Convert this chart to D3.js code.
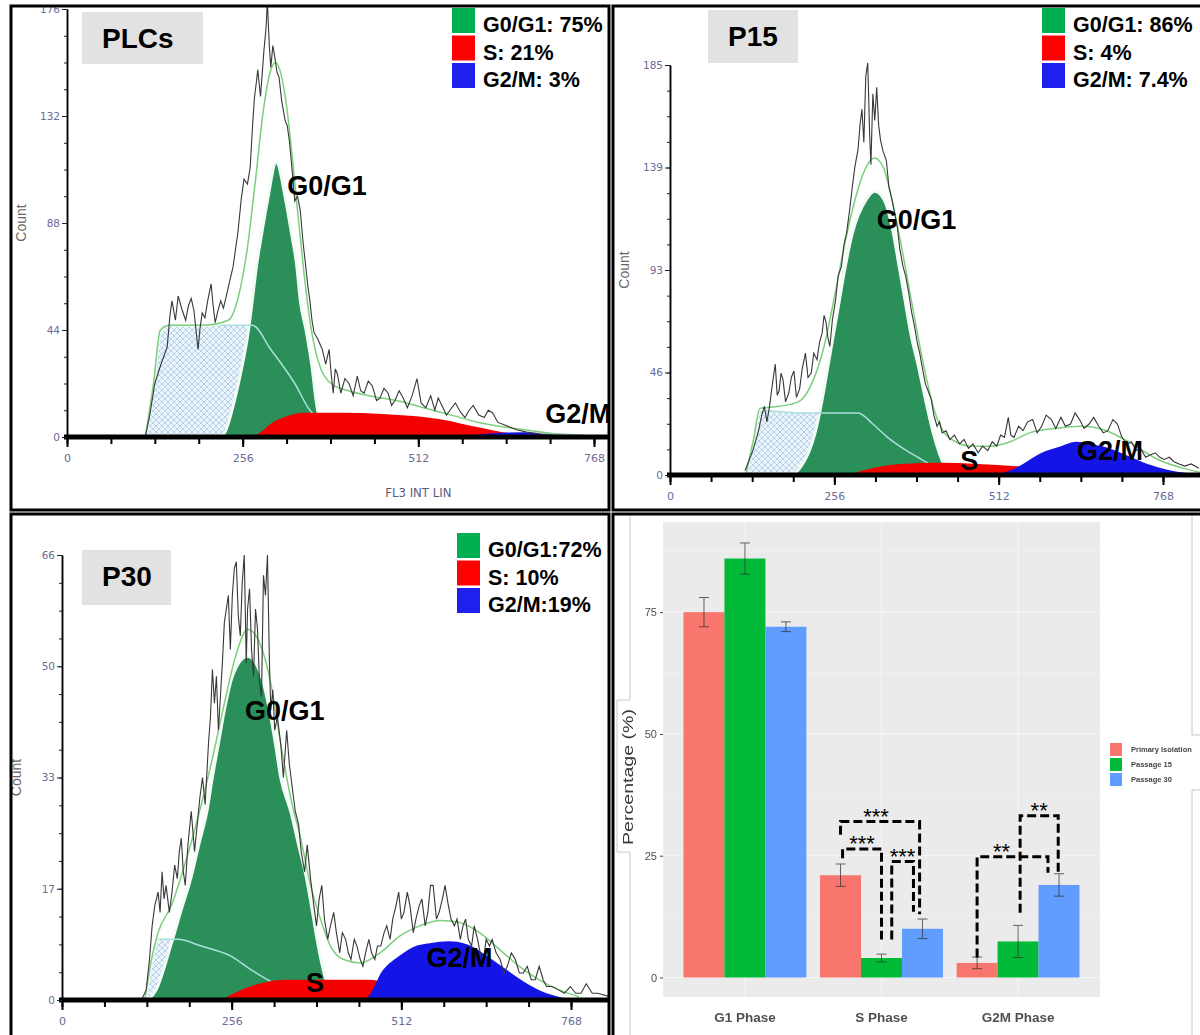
<!DOCTYPE html>
<html>
<head>
<meta charset="utf-8">
<script src="https://cdnjs.cloudflare.com/ajax/libs/d3/7.8.5/d3.min.js"></script>
<style>
  body { margin: 0; background: #fff; }
  svg { display: block; font-family: "Liberation Sans", Arial, sans-serif; }
</style>
</head>
<body>
<svg id="figure" width="1200" height="1035"></svg>
<script>
  // ---- flow cytometry histograms, [channel, count] ----
  var plcRaw = [[114,0],[120,8],[128,22],[137,30],[146,37],[150,50],[153,56],[158,48],[162,58],[165,55],[168,52],[173,48],[177,54],[181,57],[185,52],[188,44],[191,36],[194,45],[197,51],[201,49],[205,56],[210,63],[213,54],[216,47],[220,52],[224,56],[228,53],[233,59],[237,64],[242,70],[246,78],[249,84],[254,98],[258,106],[263,104],[267,111],[270,126],[273,139],[276,146],[278,151],[282,140],[287,159],[290,168],[292,179],[295,160],[297,152],[300,161],[303,156],[306,150],[309,148],[313,138],[318,130],[321,128],[324,122],[328,110],[332,97],[336,99],[340,93],[344,80],[348,70],[351,62],[354,56],[357,48],[360,43],[366,40],[372,36],[377,30],[382,36],[385,26],[388,18],[391,28],[394,26],[399,18],[405,24],[411,22],[417,17],[423,25],[428,19],[433,18],[439,23],[445,21],[451,15],[456,16],[462,20],[468,18],[473,13],[478,15],[484,19],[490,16],[496,12],[503,17],[510,24],[516,14],[523,12],[530,17],[536,11],[541,16],[548,12],[553,9],[558,11],[566,14],[574,10],[580,8],[586,11],[592,13],[600,9],[608,8],[614,11],[620,10],[628,6],[637,5],[646,4],[655,3],[670,2],[694,1],[720,0.5],[749,0],[768,0]];
  var plcModel = [[114,0],[126,22],[136,44],[150,46],[200,46],[235,48],[250,58],[262,76],[274,104],[286,134],[296,150],[304,154],[312,149],[320,136],[328,116],[336,93],[344,71],[352,52],[360,38],[370,28],[385,22],[410,19],[440,17],[480,15],[520,12],[560,9],[600,6],[640,4],[680,2.5],[720,1],[768,0.3]];
  var plcDebris = [[114,0],[126,20],[134,40],[142,46],[200,46],[240,46],[270,46],[297,36],[332,22],[354,11],[382,6],[420,2],[450,0]];
  var plcG1 = [[220,0],[229,1.5],[244,15],[255,29],[264,43],[270,56],[276,70],[284,84],[292,97],[305,113],[319,97],[327,84],[335,70],[340,56],[349,43],[357,29],[363,15],[374,1.5],[382,0]];
  var plcS = [[270,0],[280,1.5],[297,5.5],[320,8.5],[345,10],[400,10],[460,9.5],[505,8.6],[550,7],[590,4.5],[620,2.8],[645,1.5],[680,0.7],[710,0.3],[730,0]];
  var plcG2M = [[560,0],[600,1],[640,1.8],[680,2],[720,1.5],[760,0.8],[800,0]];
  var plcLegend = ["G0/G1: 75%", "S: 21%", "G2/M: 3%"];

  var p15Raw = [[117,2],[129,11],[138,20],[143,27],[147,31],[151,24],[155,31],[160,42],[164,50],[167,36],[170,38],[173,46],[176,43],[180,33],[185,37],[189,44],[193,47],[197,35],[202,39],[206,48],[211,55],[215,44],[220,46],[224,55],[229,52],[233,60],[237,64],[240,72],[243,69],[246,62],[249,58],[253,70],[258,79],[262,90],[267,94],[271,104],[275,109],[280,120],[284,130],[288,139],[293,147],[296,158],[299,165],[302,150],[305,180],[308,186],[311,154],[313,140],[316,172],[319,160],[322,175],[325,158],[328,151],[332,146],[337,142],[341,130],[346,124],[350,118],[354,112],[358,102],[363,94],[367,90],[372,82],[376,74],[381,67],[385,60],[389,55],[394,47],[398,41],[402,38],[407,34],[411,27],[416,22],[420,24],[424,19],[430,20],[436,16],[443,18],[451,14],[458,16],[465,12],[472,14],[480,10],[487,13],[495,11],[502,15],[509,13],[515,18],[521,17],[527,26],[531,18],[536,17],[543,22],[550,20],[557,24],[565,25],[572,19],[579,22],[586,27],[594,25],[601,21],[609,26],[616,22],[624,23],[631,28],[638,25],[645,21],[653,23],[660,26],[668,22],[675,19],[682,20],[690,25],[697,23],[704,17],[712,14],[719,15],[726,11],[733,12],[741,8],[748,9],[756,10],[763,8],[770,7],[778,8],[785,6],[793,5],[802,4],[812,5],[824,3]];
  var p15Model = [[118,0],[130,16],[140,30],[170,31],[200,33],[222,42],[240,58],[256,80],[272,104],[288,124],[304,138],[318,143],[332,139],[346,124],[360,104],[374,82],[388,60],[400,43],[412,29],[425,20],[445,15],[470,13],[500,13],[530,15],[560,19],[600,21],[640,22],[680,20],[720,14],[760,7],[800,3],[830,1]];
  var p15Debris = [[120,0],[130,15],[138,28],[150,29],[200,28],[250,28],[293,28],[316,23],[339,17],[363,12],[386,8],[410,4],[440,1],[470,0]];
  var p15G1 = [[190,0],[202,3],[226,19],[237,34],[246,49],[255,64],[264,79],[273,94],[284,109],[305,124],[319,128],[334,124],[348,109],[357,94],[366,79],[375,64],[387,49],[398,34],[410,19],[428,4],[440,0]];
  var p15S = [[280,0],[300,2],[330,4],[360,5],[420,5.5],[480,5],[540,4],[600,3],[660,2],[720,1],[760,0]];
  var p15G2M = [[505,0],[530,2],[550,5],[579,10],[609,13],[632,15],[656,14],[685,12],[715,8.5],[744,5],[773,2.5],[802,1],[830,0.3]];
  var p15Legend = ["G0/G1: 86%", "S: 4%", "G2/M: 7.4%"];

  var p30Raw = [[120,0],[127,1.5],[132,6],[136,11],[140,14],[145,16],[148,13],[151,19],[154,15],[157,17],[162,13],[166,16],[170,20],[174,18],[177,22],[180,24],[183,19],[186,17],[190,23],[195,28],[200,22],[204,26],[208,30],[212,33],[216,29],[221,38],[224,42],[227,49],[230,44],[233,48],[236,40],[239,45],[242,50],[245,56],[248,58],[251,60],[254,52],[257,60],[260,64],[263,65],[266,57],[269,54],[272,62],[275,66],[278,50],[280,58],[283,61],[286,52],[289,48],[292,58],[295,55],[298,47],[301,45],[304,63],[307,60],[310,66],[313,50],[315,43],[318,46],[321,40],[325,42],[330,38],[334,33],[339,40],[343,35],[348,31],[352,28],[357,26],[361,22],[366,19],[370,23],[375,18],[380,14],[384,11],[388,15],[392,17],[396,12],[401,9],[405,11],[410,13],[414,10],[419,7],[423,10],[428,9],[432,7],[436,6],[441,9],[445,8],[450,6],[454,5],[458,7],[463,9],[467,7],[472,6],[476,8],[481,8],[486,10],[490,11],[495,9],[499,12],[504,14],[508,16],[512,12],[516,13],[521,16],[525,14],[530,10],[534,12],[539,14],[543,15],[548,11],[552,13],[556,17],[560,17],[565,12],[569,13],[574,15],[578,17],[583,14],[587,12],[592,11],[596,12],[601,9],[605,11],[609,12],[613,9],[618,8],[622,11],[627,9],[631,7],[636,6],[640,9],[645,8],[649,9],[655,7],[661,6],[667,4],[672,5],[678,7],[684,6],[690,4],[696,4],[702,5],[708,3],[714,3],[720,5],[726,3],[731,2],[740,2],[749,1.5],[758,1],[767,2],[775,1],[783,1],[791,2.4],[800,1],[808,1],[827,0.5]];
  var p30Model = [[125,0],[135,6],[145,10],[165,14],[185,20],[205,27],[225,35],[245,44],[262,51],[280,55],[298,53],[315,47],[330,38],[345,30],[360,24],[375,17],[390,12],[405,8],[425,6],[450,5.5],[480,7],[510,9.5],[540,11],[570,11.8],[600,11.5],[630,10],[660,7.5],[690,5],[720,3],[750,1.5],[780,0.5]];
  var p30Debris = [[125,0],[135,6],[145,9],[175,9],[210,8],[255,6.5],[285,4.5],[320,2.5],[360,1],[400,0]];
  var p30G1 = [[130,0],[142,1.5],[165,8.4],[180,13.4],[195,18.3],[207,23.3],[219,28.2],[227,33.1],[236,38],[245,43],[257,48],[280,51],[301,48],[313,43],[322,38],[330,33],[345,28],[357,23],[369,18],[378,13],[386,8.4],[401,2],[410,0]];
  var p30S = [[240,0],[270,1.5],[300,2.5],[340,3],[400,3],[460,3],[500,2.5],[550,1.5],[600,0.8],[650,0]];
  var p30G2M = [[450,0],[460,0.3],[484,4.4],[507,6.4],[531,7.9],[555,8.4],[584,8.7],[613,8.2],[643,6.4],[672,4.4],[702,2.4],[731,1],[749,0.5],[770,0]];
  var p30Legend = ["G0/G1:72%", "S: 10%", "G2/M:19%"];

  var channelTicks = [0, 256, 512, 768];
  var plcCountTicks = [0, 44, 88, 132, 176],
      plcCountLabels = ["0", "44", "88", "132", "176"];
  var p15CountTicks = [0, 46.25, 92.5, 138.75, 185],
      p15CountLabels = ["0", "46", "93", "139", "185"];
  var p30CountTicks = [0, 16.5, 33, 49.5, 66],
      p30CountLabels = ["0", "17", "33", "50", "66"];

  var legendColors = ["#00b050", "#ff0000", "#2020ee"];

  // ---- summary bar chart ----
  var phases = ["G1 Phase", "S Phase", "G2M Phase"];
  var groups = ["Primary Isolation", "Passage 15", "Passage 30"];
  var pctPrimary = [75, 21, 3],
      pctP15 = [86, 4, 7.4],
      pctP30 = [72, 10, 19];
  var errPrimary = [3, 2.3, 1.2],
      errP15 = [3.2, 0.8, 3.3],
      errP30 = [1, 2, 2.3];
  var groupColors = ["#f8766d", "#00ba38", "#619cff"];

  // significance brackets: phase, bar from / to, top value, leg end values, label
  var sigPhase = ["S Phase", "S Phase", "S Phase", "G2M Phase", "G2M Phase"];
  var sigFrom = [0, 0, 1, 0, 1],
      sigTo = [2, 1, 2, 2, 2];
  var sigTop = [32, 26.4, 23.8, 24.8, 33.2],
      sigLeftEnd = [29.3, 24.5, 7.8, 4.1, 13.3],
      sigRightEnd = [13, 7.8, 13.5, 21.5, 21.5];
  var sigLabels = ["***", "***", "***", "**", "**"];

  var svg = d3.select("#figure");
  var defs = svg.append("defs");

  var hatch = defs.append("pattern")
      .attr("id", "hatch")
      .attr("patternUnits", "userSpaceOnUse")
      .attr("width", 6)
      .attr("height", 6);
  hatch.append("rect").attr("width", 6).attr("height", 6).attr("fill", "#eaf4fa");
  hatch.append("path")
      .attr("d", "M0,0L6,6M6,0L0,6")
      .attr("stroke", "#a9c9e4")
      .attr("stroke-width", 0.8);

  var panels = [
    {id: "plc", name: "PLCs", raw: plcRaw, model: plcModel, debris: plcDebris, g1: plcG1, s: plcS, g2m: plcG2M,
     legend: plcLegend, ticks: plcCountTicks, tickLabels: plcCountLabels, ymax: 176,
     box: [11, 6, 598, 504], xr: [67, 594], yr: [437, 9],
     nameBox: [82, 12, 121, 52], legendAt: [452, 8],
     labels: [["G0/G1", 321, 99.6], ["G2/M", 697, 5.8]], xTitle: true},
    {id: "p15", name: "P15", raw: p15Raw, model: p15Model, debris: p15Debris, g1: p15G1, s: p15S, g2m: p15G2M,
     legend: p15Legend, ticks: p15CountTicks, tickLabels: p15CountLabels, ymax: 185,
     box: [613, 6, 600, 504], xr: [670, 1163], yr: [475, 65],
     nameBox: [708, 10, 90, 53], legendAt: [1042, 8],
     labels: [["G0/G1", 322, 111], ["S", 452, 2.3], ["G2/M", 634, 6.8]], xTitle: false},
    {id: "p30", name: "P30", raw: p30Raw, model: p30Model, debris: p30Debris, g1: p30G1, s: p30S, g2m: p30G2M,
     legend: p30Legend, ticks: p30CountTicks, tickLabels: p30CountLabels, ymax: 66,
     box: [11, 514, 598, 530], xr: [62, 571], yr: [1000, 555],
     nameBox: [82, 550, 89, 55], legendAt: [457, 533],
     labels: [["G0/G1", 276, 41.5], ["S", 368, 1.2], ["G2/M", 550, 4.9]], xTitle: false}
  ];

  panels.forEach(drawHistogram);

  function drawHistogram(p) {
    var clipId = "clip-" + p.id;
    defs.append("clipPath")
        .attr("id", clipId)
      .append("rect")
        .attr("x", p.box[0] + 1)
        .attr("y", p.box[1] + 1)
        .attr("width", p.box[2] - 2)
        .attr("height", p.box[3] - 2);

    var g = svg.append("g").attr("clip-path", "url(#" + clipId + ")");

    var x = d3.scaleLinear().domain([0, 768]).range(p.xr),
        y = d3.scaleLinear().domain([0, p.ymax]).range(p.yr);

    var area = d3.area()
        .curve(d3.curveMonotoneX)
        .x(function(d) { return x(d[0]); })
        .y0(y(0))
        .y1(function(d) { return y(d[1]); });

    var smooth = d3.line()
        .curve(d3.curveMonotoneX)
        .x(function(d) { return x(d[0]); })
        .y(function(d) { return y(d[1]); });

    var jagged = d3.line()
        .x(function(d) { return x(d[0]); })
        .y(function(d) { return y(d[1]); });

    g.append("path").datum(p.debris).attr("d", area).attr("fill", "url(#hatch)");
    g.append("path").datum(p.g1).attr("d", area)
        .attr("fill", "#2b8f5a")
        .attr("stroke", "#f2fbf4")
        .attr("stroke-width", 3);
    g.append("path").datum(p.debris).attr("d", smooth)
        .attr("fill", "none")
        .attr("stroke", "#a8e0dc")
        .attr("stroke-width", 1.5);
    g.append("path").datum(p.s).attr("d", area).attr("fill", "#f40000");
    g.append("path").datum(p.g2m).attr("d", area).attr("fill", "#1414e6");

    g.append("path").datum(p.model).attr("d", smooth)
        .attr("fill", "none")
        .attr("stroke", "#fff")
        .attr("stroke-width", 4)
        .attr("opacity", 0.7);
    g.append("path").datum(p.model).attr("d", smooth)
        .attr("fill", "none")
        .attr("stroke", "#7ccf7c")
        .attr("stroke-width", 1.5);
    g.append("path").datum(p.raw).attr("d", jagged)
        .attr("fill", "none")
        .attr("stroke", "#383838")
        .attr("stroke-width", 1.1);

    // x axis: heavy baseline with minor / major ticks
    g.append("line")
        .attr("x1", x(0) - 3)
        .attr("x2", p.box[0] + p.box[2])
        .attr("y1", y(0))
        .attr("y2", y(0))
        .attr("stroke", "#000")
        .attr("stroke-width", 5);

    var xMinor = d3.axisBottom(x).tickValues(d3.range(0, 769, 64)).tickSize(7).tickSizeOuter(0).tickFormat("");
    var xMajor = d3.axisBottom(x).tickValues(channelTicks).tickSize(10).tickSizeOuter(0).tickPadding(7);

    [xMinor, xMajor].forEach(function(ax) {
      var a = g.append("g")
          .attr("transform", "translate(0," + y(0) + ")")
          .call(ax);
      a.select(".domain").remove();
      a.selectAll(".tick line").attr("stroke", "#000").attr("stroke-width", 2);
      a.selectAll(".tick text")
          .attr("fill", "#6b6b98")
          .style("font-family", "'DejaVu Sans', sans-serif")
          .style("font-size", "11px");
    });

    // y axis
    var yMinor = d3.axisLeft(y).tickValues(d3.range(0, p.ymax, p.ymax / 16)).tickSize(3).tickSizeOuter(0).tickFormat("");
    var yMajor = d3.axisLeft(y).tickValues(p.ticks).tickSize(5).tickSizeOuter(0).tickPadding(2)
        .tickFormat(function(d, i) { return p.tickLabels[i]; });

    [yMinor, yMajor].forEach(function(ax) {
      var a = g.append("g")
          .attr("transform", "translate(" + x(0) + ",0)")
          .call(ax);
      a.select(".domain").attr("stroke", "#000").attr("stroke-width", 1.5);
      a.selectAll(".tick line").attr("stroke", "#222");
      a.selectAll(".tick text")
          .attr("fill", "#6b6b98")
          .style("font-family", "'DejaVu Sans', sans-serif")
          .style("font-size", "10.5px");
    });

    g.append("text")
        .attr("transform", "translate(" + (x(0) - 41) + "," + ((p.yr[0] + p.yr[1]) / 2) + ") rotate(-90)")
        .attr("text-anchor", "middle")
        .attr("fill", "#666")
        .style("font-size", "14px")
        .text("Count");

    if (p.xTitle) {
      g.append("text")
          .attr("x", x(512))
          .attr("y", y(0) + 60)
          .attr("text-anchor", "middle")
          .attr("fill", "#5a5a7a")
          .style("font-family", "'DejaVu Sans Condensed', 'DejaVu Sans', sans-serif")
          .style("font-size", "13px")
          .text("FL3 INT LIN");
    }

    // phase labels
    g.selectAll(".phase-label")
        .data(p.labels)
      .enter().append("text")
        .attr("class", "phase-label")
        .attr("x", function(d) { return x(d[1]); })
        .attr("y", function(d) { return y(d[2]); })
        .attr("font-weight", "bold")
        .style("font-size", "27px")
        .text(function(d) { return d[0]; });

    // sample name box
    g.append("rect")
        .attr("x", p.nameBox[0])
        .attr("y", p.nameBox[1])
        .attr("width", p.nameBox[2])
        .attr("height", p.nameBox[3])
        .attr("fill", "#e2e2e2");
    g.append("text")
        .attr("x", p.nameBox[0] + 20)
        .attr("y", p.nameBox[1] + 36)
        .attr("font-weight", "bold")
        .style("font-size", "28px")
        .text(p.name);

    // legend
    var lg = g.append("g").attr("transform", "translate(" + p.legendAt[0] + "," + p.legendAt[1] + ")");
    lg.selectAll("rect")
        .data(p.legend)
      .enter().append("rect")
        .attr("x", 0)
        .attr("y", function(d, i) { return i * 27.5; })
        .attr("width", 23)
        .attr("height", 25)
        .attr("fill", function(d, i) { return legendColors[i]; });
    lg.selectAll("text")
        .data(p.legend)
      .enter().append("text")
        .attr("x", 31)
        .attr("y", function(d, i) { return i * 27.5 + 24; })
        .attr("font-weight", "bold")
        .style("font-size", "21.5px")
        .text(function(d) { return d; });
  }

  // ---- bar chart panel ----
  defs.append("clipPath")
      .attr("id", "clip-bars")
    .append("rect")
      .attr("x", 614).attr("y", 515).attr("width", 586).attr("height", 520);

  var soft = defs.append("filter").attr("id", "soft");
  soft.append("feGaussianBlur").attr("stdDeviation", 0.45);

  var bars = svg.append("g").attr("clip-path", "url(#clip-bars)");

  var bx = d3.scaleBand().domain(phases).range([663, 1100]).paddingInner(0.1).paddingOuter(0.15),
      bxi = d3.scaleBand().domain(groups).range([0, bx.bandwidth()]),
      by = d3.scaleLinear().domain([-4, 93.5]).range([997, 522]);

  bars.append("rect")
      .attr("x", bx.range()[0])
      .attr("y", by.range()[1])
      .attr("width", bx.range()[1] - bx.range()[0])
      .attr("height", by.range()[0] - by.range()[1])
      .attr("fill", "#ebebeb");

  var grid = bars.append("g").attr("stroke", "#f6f6f6");
  grid.selectAll(".minor")
      .data([12.5, 37.5, 62.5, 87.5])
    .enter().append("line")
      .attr("x1", bx.range()[0]).attr("x2", bx.range()[1])
      .attr("y1", by).attr("y2", by)
      .attr("stroke-width", 0.5);
  grid.selectAll(".major")
      .data([0, 25, 50, 75])
    .enter().append("line")
      .attr("x1", bx.range()[0]).attr("x2", bx.range()[1])
      .attr("y1", by).attr("y2", by)
      .attr("stroke-width", 1);
  grid.selectAll(".vert")
      .data(phases)
    .enter().append("line")
      .attr("x1", function(d) { return bx(d) + bx.bandwidth() / 2; })
      .attr("x2", function(d) { return bx(d) + bx.bandwidth() / 2; })
      .attr("y1", by.range()[0]).attr("y2", by.range()[1])
      .attr("stroke-width", 1);

  var barRows = [];
  phases.forEach(function(ph, i) {
    barRows.push({phase: ph, group: groups[0], value: pctPrimary[i], err: errPrimary[i], c: 0});
    barRows.push({phase: ph, group: groups[1], value: pctP15[i], err: errP15[i], c: 1});
    barRows.push({phase: ph, group: groups[2], value: pctP30[i], err: errP30[i], c: 2});
  });

  function barCenter(ph, grp) { return bx(ph) + bxi(grp) + bxi.bandwidth() / 2; }

  bars.selectAll(".bar")
      .data(barRows)
    .enter().append("rect")
      .attr("class", "bar")
      .attr("x", function(d) { return bx(d.phase) + bxi(d.group); })
      .attr("y", function(d) { return by(d.value); })
      .attr("width", bxi.bandwidth())
      .attr("height", function(d) { return by(0) - by(d.value); })
      .attr("fill", function(d) { return groupColors[d.c]; });

  var errG = bars.append("g")
      .attr("stroke", "#333")
      .attr("stroke-width", 1)
      .attr("opacity", 0.75);
  barRows.forEach(function(d) {
    var cx = barCenter(d.phase, d.group);
    errG.append("path")
        .attr("d", "M" + (cx - 5) + "," + by(d.value + d.err) + "H" + (cx + 5) +
                   "M" + cx + "," + by(d.value + d.err) + "V" + by(d.value - d.err) +
                   "M" + (cx - 5) + "," + by(d.value - d.err) + "H" + (cx + 5))
        .attr("fill", "none");
  });

  // significance brackets
  var legShift = [[0, -0.07], [0.05, 0], [0.25, -0.22], [0, -0.27], [0.05, -0.02]];
  var labelShift = [-4, 0, 0, -11, 0];
  sigLabels.forEach(function(lab, k) {
    var w = bxi.bandwidth(),
        xl = barCenter(sigPhase[k], groups[sigFrom[k]]) + legShift[k][0] * w,
        xr = barCenter(sigPhase[k], groups[sigTo[k]]) + legShift[k][1] * w;
    bars.append("path")
        .attr("d", "M" + xl + "," + by(sigLeftEnd[k]) + "V" + by(sigTop[k]) +
                   "H" + xr + "V" + by(sigRightEnd[k]))
        .attr("fill", "none")
        .attr("stroke", "#000")
        .attr("stroke-width", 3)
        .attr("stroke-dasharray", "9,4");
    bars.append("text")
        .attr("x", (xl + xr) / 2 + labelShift[k])
        .attr("y", by(sigTop[k]) + 2)
        .attr("text-anchor", "middle")
        .style("font-size", "22px")
        .text(lab);
  });

  // y axis ticks and labels
  var yAxis = d3.axisLeft(by).tickValues([0, 25, 50, 75]).tickSize(3).tickSizeOuter(0).tickPadding(3);
  var ya = bars.append("g")
      .attr("transform", "translate(" + bx.range()[0] + ",0)")
      .attr("filter", "url(#soft)")
      .call(yAxis);
  ya.select(".domain").remove();
  ya.selectAll(".tick line").attr("stroke", "#444");
  ya.selectAll(".tick text").attr("fill", "#4d4d4d").style("font-size", "11px");

  bars.selectAll(".phase-name")
      .data(phases)
    .enter().append("text")
      .attr("class", "phase-name")
      .attr("x", function(d) { return bx(d) + bx.bandwidth() / 2; })
      .attr("y", 1022)
      .attr("text-anchor", "middle")
      .attr("fill", "#505050")
      .attr("font-weight", "bold")
      .attr("filter", "url(#soft)")
      .style("font-size", "13.5px")
      .text(function(d) { return d; });

  bars.append("path")
      .attr("d", "M630,515V700H617V852H630V1035M1192,515V735H1200M1200,790H1192V1035")
      .attr("fill", "none")
      .attr("stroke", "#c8c8c8");

  bars.append("text")
      .attr("transform", "translate(633,777) rotate(-90)")
      .attr("text-anchor", "middle")
      .attr("fill", "#3a3a3a")
      .attr("filter", "url(#soft)")
      .attr("textLength", 136)
      .attr("lengthAdjust", "spacingAndGlyphs")
      .style("font-size", "14px")
      .text("Percentage (%)");

  var leg = bars.append("g").attr("transform", "translate(1110,743)").attr("filter", "url(#soft)");
  leg.selectAll("rect")
      .data(groups)
    .enter().append("rect")
      .attr("x", 0)
      .attr("y", function(d, i) { return i * 15; })
      .attr("width", 12)
      .attr("height", 13)
      .attr("fill", function(d, i) { return groupColors[i]; });
  leg.selectAll("text")
      .data(groups)
    .enter().append("text")
      .attr("x", 21)
      .attr("y", function(d, i) { return i * 15 + 9; })
      .attr("fill", "#444")
      .attr("font-weight", "bold")
      .style("font-size", "7.5px")
      .text(function(d) { return d; });

  // panel frames
  svg.selectAll(".frame")
      .data([[11, 6, 598, 504], [613, 6, 600, 504], [11, 514, 598, 530], [613, 514, 600, 530]])
    .enter().append("rect")
      .attr("class", "frame")
      .attr("x", function(d) { return d[0]; })
      .attr("y", function(d) { return d[1]; })
      .attr("width", function(d) { return d[2]; })
      .attr("height", function(d) { return d[3]; })
      .attr("fill", "none")
      .attr("stroke", "#000")
      .attr("stroke-width", 3);
</script>
</body>
</html>
